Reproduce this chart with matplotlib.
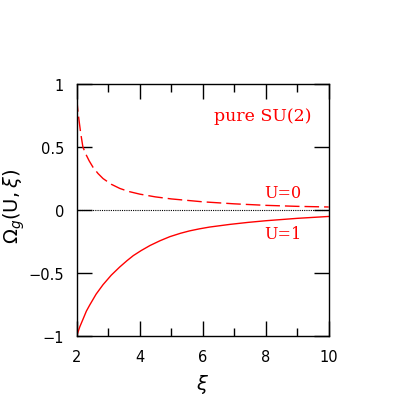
import numpy as np
import matplotlib
matplotlib.use("Agg")
import matplotlib.pyplot as plt
from matplotlib.ticker import MultipleLocator

# values
xi_u0 = [2.0, 2.04, 2.083, 2.13, 2.2, 2.3, 2.4, 2.52, 2.68, 2.84, 3.1, 3.37, 3.65, 4.0, 4.5, 5.0, 6.0, 7.0, 8.0, 9.0, 10.0]
omega_u0 = [0.895, 0.79, 0.70, 0.61, 0.50, 0.44, 0.39, 0.34, 0.29, 0.25, 0.205, 0.172, 0.148, 0.127, 0.105, 0.089, 0.066, 0.050, 0.038, 0.030, 0.025]

xi_u1 = [2.0, 2.1, 2.21, 2.31, 2.42, 2.62, 2.84, 3.1, 3.37, 3.6, 3.8, 4.05, 4.33, 4.65, 4.96, 5.3, 5.59, 5.9, 6.22, 6.86, 7.44, 8.0, 9.0, 10.0]
omega_u1 = [-1.0, -0.925, -0.86, -0.80, -0.75, -0.665, -0.59, -0.515, -0.45, -0.40, -0.36, -0.32, -0.28, -0.242, -0.21, -0.183, -0.164, -0.148, -0.134, -0.113, -0.097, -0.084, -0.065, -0.05]

x_ticks = [2, 4, 6, 8, 10]
y_ticks = [-1, -0.5, 0, 0.5, 1]
y_tick_labels = ["\u22121", "\u22120.5", "0", "0.5", "1"]

plt.rcParams["font.family"] = ["DejaVu Sans"]
plt.rcParams["mathtext.fontset"] = "dejavusans"

fig = plt.figure(figsize=(4.14, 4.14), dpi=100)
ax = fig.add_axes([0.185, 0.185, 0.609, 0.61])

ax.plot(xi_u0, omega_u0, color="red", lw=1.0, dashes=(10.5, 3.6))
ax.plot(xi_u1, omega_u1, color="red", lw=1.0)
ax.plot([2, 10], [0, 0], color="black", lw=0.8, ls=(0, (1, 1)))

ax.set_xlim(2, 10)
ax.set_ylim(-1, 1)
ax.set_xticks(x_ticks)
ax.set_yticks(y_ticks)
ax.set_yticklabels(y_tick_labels)
ax.xaxis.set_minor_locator(MultipleLocator(1))

ax.tick_params(which="both", direction="in", top=True, right=True,
               labelsize=10.5, width=1.0, pad=9)
ax.tick_params(which="major", length=11)
ax.tick_params(which="minor", length=5.5)
for s in ax.spines.values():
    s.set_linewidth(1.0)

serif = "DejaVu Serif"
ax.text(7.9, 0.75, "pure SU(2)", color="red", family=serif,
        fontsize=12.5, ha="center", va="center")
ax.text(8.54, 0.141, "U=0", color="red", family=serif,
        fontsize=11.5, ha="center", va="center")
ax.text(8.54, -0.184, "U=1", color="red", family=serif,
        fontsize=11.5, ha="center", va="center")

fig.text(14 / 414, 1 - 206 / 414, r"$\Omega_g(\mathrm{U},\xi)$", rotation=90,
         fontsize=14, ha="center", va="center")
fig.text(203 / 414, 1 - 385 / 414, r"$\xi$", fontsize=14, ha="center", va="center")

fig.savefig("out.png", dpi=100)
